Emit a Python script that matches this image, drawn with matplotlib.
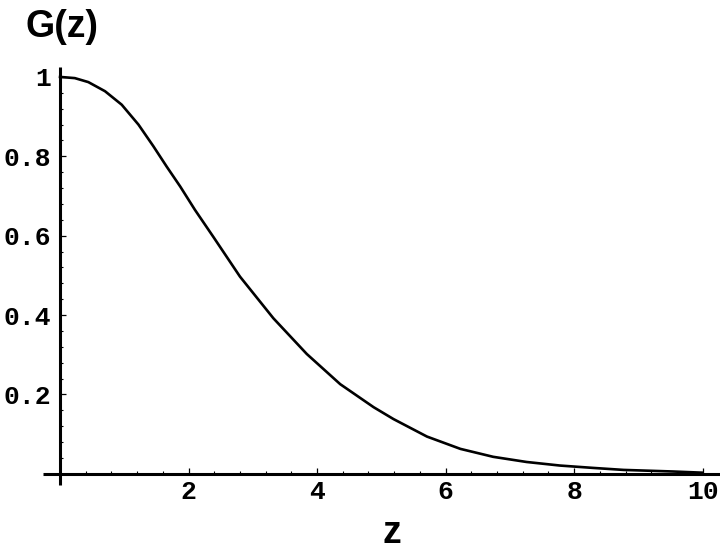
import matplotlib
matplotlib.use("Agg")
import matplotlib.pyplot as plt
from matplotlib.ticker import MultipleLocator, FixedLocator

# Data
z_vals = [0.0, 0.23, 0.44, 0.70, 0.96, 1.22, 1.45, 1.66, 1.87, 2.1, 2.39, 2.8,
          3.32, 3.84, 4.36, 4.88, 5.19, 5.71, 6.23, 6.74, 7.26, 7.78, 8.3,
          8.77, 9.54, 10.0]
g_vals = [1.0, 0.997, 0.987, 0.964, 0.930, 0.880, 0.826, 0.774, 0.724, 0.665,
          0.596, 0.497, 0.392, 0.302, 0.226, 0.168, 0.138, 0.094, 0.063, 0.043,
          0.030, 0.021, 0.015, 0.010, 0.006, 0.003]
x_ticks = [2, 4, 6, 8, 10]
x_tick_labels = ["2", "4", "6", "8", "10"]
y_ticks = [0.2, 0.4, 0.6, 0.8, 1.0]
y_tick_labels = ["0.2", "0.4", "0.6", "0.8", "1"]
x_label = "z"
y_label = "G(z)"

W, H = 720, 551
fig = plt.figure(figsize=(W / 100, H / 100), dpi=100)
left_px, right_px, top_px, bottom_px = 43, 720, 67, 485
ax = fig.add_axes([left_px / W, 1 - bottom_px / H,
                   (right_px - left_px) / W, (bottom_px - top_px) / H])

ax.plot(z_vals, g_vals, color="black", lw=1.9, solid_joinstyle="round")

ax.set_xlim(-0.265, 10.27)
ax.set_ylim(-0.028, 1.025)

for s in ["top", "right"]:
    ax.spines[s].set_visible(False)
for s in ["left", "bottom"]:
    ax.spines[s].set_position(("data", 0))
    ax.spines[s].set_linewidth(2.2)
    ax.spines[s].set_capstyle("butt")

ax.xaxis.set_major_locator(FixedLocator(x_ticks))
ax.set_xticklabels(x_tick_labels)
ax.yaxis.set_major_locator(FixedLocator(y_ticks))
ax.set_yticklabels(y_tick_labels)
ax.xaxis.set_minor_locator(MultipleLocator(0.4))
ax.yaxis.set_minor_locator(MultipleLocator(0.04))

for lab in ax.get_xticklabels() + ax.get_yticklabels():
    lab.set_fontfamily("Liberation Mono")
    lab.set_fontweight("bold")
    lab.set_fontsize(19)

ax.tick_params(axis="both", which="major", direction="in", length=4.5, width=0.9, color="black")
ax.tick_params(axis="both", which="minor", direction="in", length=2.5, width=0.8, color="black")
ax.tick_params(axis="x", which="major", pad=4.5)
ax.tick_params(axis="y", which="major", pad=6.5)

fig.text(26 / W, 1 - 37 / H, y_label, family="Liberation Sans", weight="bold",
         fontsize=27, ha="left", va="baseline")
fig.text(382 / W, 1 - 543 / H, x_label, family="Liberation Sans", weight="bold",
         fontsize=27, ha="left", va="baseline")

fig.savefig("out.png", dpi=100)
